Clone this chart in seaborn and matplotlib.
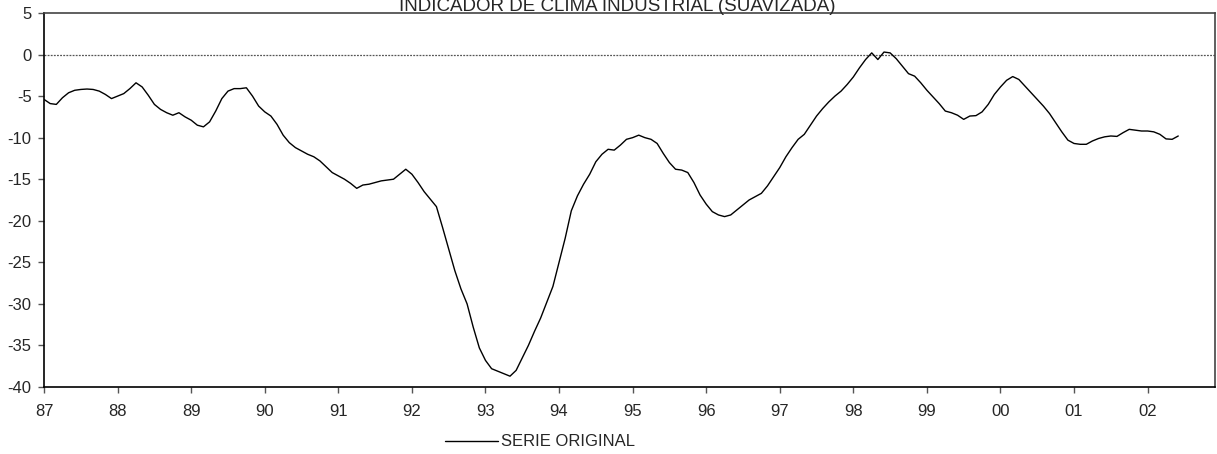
import numpy as np
import pandas as pd
import matplotlib
matplotlib.use('Agg')
import matplotlib.pyplot as plt
import seaborn as sns

# monthly values, Jan 1987 .. Jun 2002
values_87 = [-5.4, -5.9, -6.0, -5.2, -4.6, -4.3, -4.2, -4.15, -4.2, -4.4, -4.8, -5.3]
values_88 = [-5.0, -4.7, -4.1, -3.4, -3.9, -4.9, -6.0, -6.6, -7.0, -7.3, -7.0, -7.5]
values_89 = [-7.9, -8.5, -8.7, -8.1, -6.8, -5.3, -4.4, -4.1, -4.1, -4.0, -5.0, -6.2]
values_90 = [-6.9, -7.4, -8.4, -9.7, -10.6, -11.2, -11.6, -12.0, -12.3, -12.8, -13.5, -14.2]
values_91 = [-14.6, -15.0, -15.5, -16.1, -15.7, -15.6, -15.4, -15.2, -15.1, -15.0, -14.4, -13.8]
values_92 = [-14.4, -15.4, -16.5, -17.4, -18.3, -20.8, -23.4, -26.0, -28.2, -30.0, -32.8, -35.3]
values_93 = [-36.8, -37.8, -38.1, -38.4, -38.7, -38.0, -36.5, -35.0, -33.3, -31.7, -29.8, -27.9]
values_94 = [-25.0, -22.1, -18.8, -17.0, -15.6, -14.4, -12.9, -12.0, -11.4, -11.5, -10.9, -10.2]
values_95 = [-10.0, -9.7, -10.0, -10.2, -10.7, -11.9, -13.0, -13.8, -13.9, -14.2, -15.4, -16.9]
values_96 = [-18.0, -18.9, -19.3, -19.5, -19.3, -18.7, -18.1, -17.5, -17.1, -16.7, -15.8, -14.7]
values_97 = [-13.6, -12.3, -11.2, -10.2, -9.6, -8.5, -7.4, -6.5, -5.7, -5.0, -4.4, -3.6]
values_98 = [-2.7, -1.6, -0.6, 0.2, -0.6, 0.3, 0.2, -0.5, -1.4, -2.3, -2.6, -3.4]
values_99 = [-4.3, -5.1, -5.9, -6.8, -7.0, -7.3, -7.8, -7.4, -7.35, -6.9, -6.0, -4.8]
values_00 = [-3.9, -3.1, -2.65, -3.0, -3.8, -4.6, -5.4, -6.2, -7.1, -8.2, -9.3, -10.3]
values_01 = [-10.7, -10.8, -10.8, -10.4, -10.1, -9.9, -9.8, -9.85, -9.4, -9.0, -9.1, -9.2]
values_02 = [-9.2, -9.3, -9.6, -10.15, -10.2, -9.8]

year_labels = ['87', '88', '89', '90', '91', '92', '93', '94',
               '95', '96', '97', '98', '99', '00', '01', '02']
y_ticks = [-40, -35, -30, -25, -20, -15, -10, -5, 0, 5]

title = 'INDICADOR DE CLIMA INDUSTRIAL (SUAVIZADA)'
series_name = 'SERIE ORIGINAL'

values = (values_87 + values_88 + values_89 + values_90 + values_91 + values_92 +
          values_93 + values_94 + values_95 + values_96 + values_97 + values_98 +
          values_99 + values_00 + values_01 + values_02)
df = pd.DataFrame({'t': 1987 + np.arange(len(values)) / 12, 'v': values})

sns.set_style('white')
plt.rcParams['font.family'] = ['Liberation Sans', 'DejaVu Sans']
plt.rcParams['axes.unicode_minus'] = False

fig = plt.figure(figsize=(12.17, 4.54), dpi=100)
ax = fig.add_axes([0.0362, 0.1476, 0.9622, 0.8238])

ax.axhline(0, color='#555555', lw=0.9, ls=(0, (1.5, 1)), zorder=1)
sns.lineplot(data=df, x='t', y='v', color='black', lw=1.0, ax=ax,
             label=series_name, legend=False)

ax.set_xlim(1987, 1987 + 191 / 12)
ax.set_ylim(-40, 5)
ax.set_xticks(1987 + np.arange(len(year_labels)))
ax.set_xticklabels(year_labels)
ax.set_yticks(y_ticks)
ax.set_xlabel('')
ax.set_ylabel('')
ax.tick_params(axis='both', labelsize=12, length=4, width=1, color='#555555',
               direction='out', left=True, bottom=True)
ax.tick_params(axis='x', pad=8)
ax.tick_params(axis='y', pad=5)
for side in ['left', 'bottom']:
    ax.spines[side].set_color('black')
    ax.spines[side].set_linewidth(1.2)
for side in ['top', 'right']:
    ax.spines[side].set_color('#444444')
    ax.spines[side].set_linewidth(1.2)

fig.text(0.507, 1 - 11 / 454, title, ha='center', va='baseline', fontsize=13.5)

handles, labels = ax.get_legend_handles_labels()
fig.legend(handles, labels, loc='center', bbox_to_anchor=(540 / 1217, 1 - 442 / 454),
           frameon=False, fontsize=12, handlelength=3.2, handletextpad=0.2)

fig.savefig('out.png', dpi=100)
plt.close(fig)
